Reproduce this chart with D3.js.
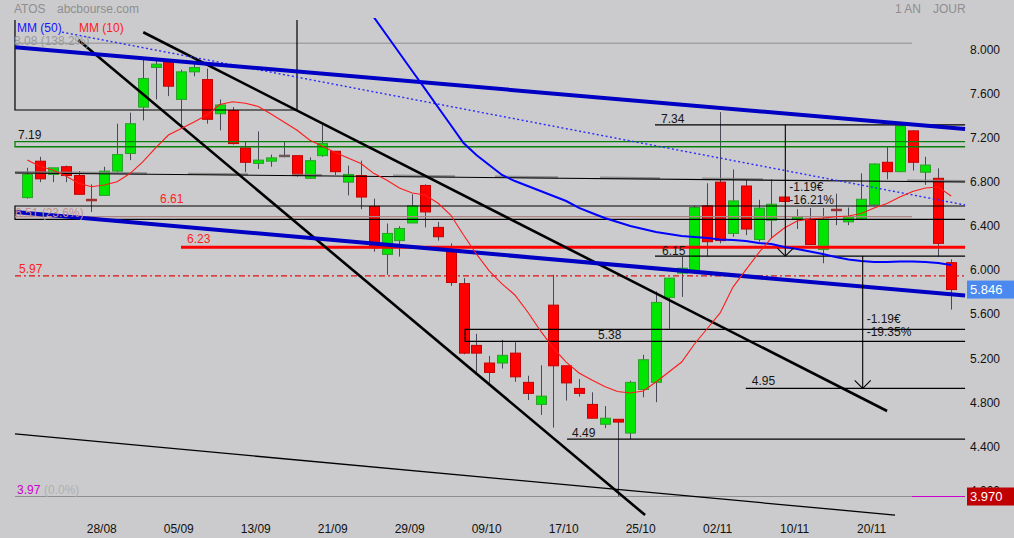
<!DOCTYPE html>
<html><head><meta charset="utf-8">
<script src="https://cdn.jsdelivr.net/npm/d3@7"></script>
<style>
body{margin:0;background:#cbcbcd;}
svg{display:block;font-family:"Liberation Sans",Arial,sans-serif;}
</style>
</head><body>
<svg id="c" width="1014" height="538"></svg>
<script>
// ---------- DATA ----------
const dates = ["18/08","21/08","22/08","23/08","24/08","25/08","28/08","29/08","30/08","31/08",
"01/09","04/09","05/09","06/09","07/09","08/09","11/09","12/09","13/09","14/09","15/09","18/09","19/09","20/09","21/09","22/09","25/09","26/09","27/09","28/09","29/09",
"02/10","03/10","04/10","05/10","06/10","09/10","10/10","11/10","12/10","13/10","16/10","17/10","18/10","19/10","20/10","23/10","24/10","25/10","26/10","27/10","30/10","31/10",
"01/11","02/11","03/11","06/11","07/11","08/11","09/11","10/11","13/11","14/11","15/11","16/11","17/11","20/11","21/11","22/11","23/11","24/11","27/11","28/11"];
const tickDates = ["28/08","05/09","13/09","21/09","29/09","09/10","17/10","25/10","02/11","10/11","20/11"];
const opens  = [6.68,7.01,6.89,6.96,6.88,6.66,6.70,6.92,7.08,7.50,7.86,7.91,7.57,7.82,7.75,7.44,7.47,7.13,6.99,7.01,7.06,7.06,6.855,7.06,7.10,6.82,6.88,6.60,6.165,6.29,6.45,6.79,6.41,6.19,5.90,5.34,5.18,5.18,5.27,5.005,4.805,5.705,5.155,4.95,4.805,4.625,4.67,4.545,4.94,5.005,5.775,5.995,6.015,6.605,6.82,6.355,6.785,6.30,6.475,6.685,6.485,6.485,6.21,6.57,6.46,6.485,6.615,7.00,6.915,7.285,6.91,6.855,6.09];
const highs  = [6.95,7.05,6.95,6.97,6.92,6.80,6.96,7.35,7.45,7.93,7.93,7.93,7.84,7.90,7.85,7.57,7.50,7.19,7.28,7.07,7.19,7.06,7.045,7.34,7.10,6.97,7.015,6.67,6.445,6.42,6.71,6.80,6.46,6.265,5.95,5.445,5.245,5.39,5.37,5.065,5.16,5.98,5.155,5.035,4.915,4.79,4.67,5.02,5.255,5.83,5.95,6.145,6.605,6.81,7.455,6.935,6.84,6.66,6.845,6.685,6.575,6.585,6.585,6.715,6.59,6.90,6.99,7.14,7.335,7.29,7.05,6.945,6.12];
const lows   = [6.67,6.82,6.82,6.82,6.71,6.55,6.70,6.91,7.02,7.38,7.57,7.60,7.32,7.78,7.35,7.29,7.16,6.91,6.94,6.96,7.045,6.87,6.85,7.05,6.885,6.70,6.575,6.19,5.98,6.145,6.45,6.41,6.29,5.88,5.26,5.10,5.00,5.13,5.01,4.845,4.71,4.595,4.84,4.875,4.68,4.59,3.97,4.49,4.87,4.825,5.49,5.78,6.01,6.145,6.265,6.325,6.34,6.28,6.31,6.64,6.395,6.255,6.085,6.43,6.43,6.485,6.61,6.845,6.91,6.925,6.795,6.145,5.665];
const closes = [6.89,6.85,6.95,6.88,6.71,6.655,6.92,7.07,7.35,7.76,7.89,7.69,7.82,7.86,7.39,7.52,7.17,7.00,7.02,7.04,7.06,6.88,7.015,7.17,6.915,6.89,6.685,6.225,6.355,6.40,6.605,6.55,6.325,5.91,5.27,5.27,5.095,5.25,5.055,4.905,4.88,5.155,5.00,4.905,4.68,4.68,4.645,5.005,5.21,5.73,5.95,6.04,6.59,6.28,6.29,6.65,6.395,6.585,6.62,6.645,6.505,6.255,6.485,6.565,6.505,6.665,6.985,6.915,7.33,7.00,6.975,6.265,5.846];
const mm10 = [7.021,6.962,6.930,6.876,6.810,6.779,6.794,6.824,6.898,7.003,7.130,7.247,7.306,7.365,7.429,7.524,7.549,7.535,7.506,7.438,7.365,7.293,7.202,7.145,7.089,7.039,6.989,6.900,6.840,6.767,6.722,6.704,6.631,6.522,6.341,6.169,6.015,5.897,5.797,5.643,5.471,5.316,5.189,5.090,5.026,4.967,4.922,4.908,4.927,5.008,5.099,5.189,5.353,5.493,5.634,5.869,6.024,6.178,6.314,6.404,6.468,6.486,6.495,6.507,6.513,6.536,6.586,6.627,6.685,6.735,6.767,6.776,6.694];
const mm50 = [null,null,null,null,null,null,null,null,null,null,null,null,null,null,null,null,null,null,null,null,null,null,null,null,null,null,null,
8.317,8.154,7.991,7.828,7.665,7.501,7.338,7.175,7.066,6.976,6.885,6.830,6.785,6.740,6.694,6.649,6.586,6.540,6.495,6.459,6.422,6.395,6.368,6.350,6.332,6.323,6.314,6.300,6.296,6.286,6.268,6.259,6.232,6.214,6.191,6.169,6.141,6.119,6.105,6.096,6.096,6.101,6.101,6.096,6.087,6.069];
const priceTicks = [8.0,7.6,7.2,6.8,6.4,6.0,5.6,5.2,4.8,4.4,4.0];
const lastPrice = 5.846, periodLow = 3.97, fibTop = 8.08;
// trendlines: [[index, value],[index, value]]
const blueChannel = [[[-0.96,8.043],[73.09,7.302]], [[-0.96,6.549],[73.09,5.792]]];
const blueDotted  = [[2.70,8.18],[73.09,6.613]];
const blackThick  = [[[3.975,8.109],[48.15,3.802]], [[9.04,8.179],[67.01,4.745]]];
const blackThin   = [[-0.96,4.537],[67.63,3.802]];
const slopeLevel  = [[-0.96,6.903],[73.09,6.821]];
const greySegs    = [[-0.96,9.33],[12.52,17.2],[20.63,22.97],[28.5,33.34],[36.45,41.36],[44.64,49.31],[52.59,57.34],[68.57,73.09]];
const topBox      = [-0.96,21.02,8.29,7.474];
const greenBand   = [7.187,7.141];
const zone651     = [6.604,6.483,6.507];
const zone538     = [34.12,5.486,5.377];
const levels = { l734:[48.92,7.34], l623:[11.98,6.23], l615:[48.92,6.15], l597:[-0.96,5.97], l495:[56.0,4.95], l449:[42.07,4.49] };
const measures = [[59.08,7.34,6.15,"-1.19€","-16.21%"],[65.11,6.15,4.95,"-1.19€","-19.35%"]];
const XL=-0.96, XR=73.09, XG=68.95;

// ---------- DRAW ----------
const W=1014,H=538;
const svg=d3.select("#c");
svg.append("rect").attr("width",W).attr("height",H).attr("fill","#cbcbcd");
const x=d3.scaleLinear().domain([0,72]).range([27.3,951.1]);
const y=d3.scaleLinear().domain([8,4]).range([52,493.2]);

svg.append("defs").append("clipPath").attr("id","plot").append("rect").attr("x",0).attr("y",18).attr("width",W).attr("height",H-18);

const T=(s,xx,yy,col,size)=>svg.append("text").attr("x",xx).attr("y",yy).attr("fill",col).attr("font-size",size||12).text(s);
T("ATOS",14,13,"#8e8e8e"); T("abcbourse.com",57,13,"#8e8e8e");
T("1 AN",895,13,"#8e8e8e"); T("JOUR",933,13,"#8e8e8e");

const seg=(a,b,col,w,dash)=>{const l=svg.append("line").attr("x1",x(a[0])).attr("y1",y(a[1])).attr("x2",x(b[0])).attr("y2",y(b[1])).attr("stroke",col).attr("stroke-width",w);if(dash)l.attr("stroke-dasharray",dash);return l;};
const hline=(x0,x1,v,col,w,dash)=>seg([x0,v],[x1,v],col,w,dash);

// fib grey lines
hline(XL,XG,fibTop,"#8f8f8f",1);
hline(XL,XG,periodLow,"#8f8f8f",1);
hline(XG,XR,periodLow,"#cc00cc",1.2);

// candles
const cg=svg.append("g");
dates.forEach((d,i)=>{
  const o=opens[i],c=closes[i],h=highs[i],l=lows[i];
  const cx=Math.round(x(i))+0.5;
  cg.append("line").attr("x1",cx).attr("x2",cx).attr("y1",y(h)).attr("y2",y(l)).attr("stroke","#484858").attr("stroke-width",1);
  if(Math.abs(o-c)<0.012){
    cg.append("rect").attr("x",cx-5.5).attr("y",y(o)-1).attr("width",11).attr("height",2.5).attr("fill",o>c?"#a03030":"#6a5a5a");
  } else {
    const up=c>o;
    cg.append("rect").attr("x",cx-5).attr("y",y(Math.max(o,c))).attr("width",10)
      .attr("height",Math.max(1.5,y(Math.min(o,c))-y(Math.max(o,c))))
      .attr("fill",up?"#00e600":"#ff0000").attr("stroke",up?"#2e9e2e":"#c40000").attr("stroke-width",1);
  }
});

// top-left box
svg.append("path").attr("d",`M${x(topBox[0])},${y(topBox[2])}V${y(topBox[3])}H${x(topBox[1])}V${y(topBox[2])}`).attr("fill","none").attr("stroke","#000").attr("stroke-width",1.2);

// green band
svg.append("path").attr("d",`M${x(XR)},${y(greenBand[0])}H${x(XL)}V${y(greenBand[1])}H${x(XR)}`).attr("fill","none").attr("stroke","#0a800a").attr("stroke-width",1.3);

// sloped level with grey segments
const lerpV=(t)=>slopeLevel[0][1]+(slopeLevel[1][1]-slopeLevel[0][1])*(t-slopeLevel[0][0])/(slopeLevel[1][0]-slopeLevel[0][0]);
greySegs.forEach(s=>seg([s[0],lerpV(s[0])+0.008],[s[1],lerpV(s[1])+0.008],"#7e7e7e",2.2).attr("opacity",0.8));
seg(slopeLevel[0],slopeLevel[1],"#000",1.1);

// 6.61 / 6.48 zone
svg.append("path").attr("d",`M${x(XR)},${y(zone651[0])}H${x(XL)}V${y(zone651[1])}H${x(XR)}`).attr("fill","none").attr("stroke","#000").attr("stroke-width",1.2);
hline(XL,XG,zone651[2],"#b08282",1.2);

// 5.38 zone
svg.append("path").attr("d",`M${x(XR)},${y(zone538[1])}H${x(zone538[0])}V${y(zone538[2])}H${x(XR)}`).attr("fill","none").attr("stroke","#000").attr("stroke-width",1.2);

// levels
hline(levels.l734[0],XR,levels.l734[1],"#000",1.2);
hline(levels.l615[0],XR,levels.l615[1],"#000",1.2);
hline(levels.l495[0],XR,levels.l495[1],"#000",1.2);
hline(levels.l449[0],XR,levels.l449[1],"#000",1.2);
hline(levels.l597[0],XR,levels.l597[1],"#e01010",1.2,"6,3,2,3");
hline(levels.l623[0],XR,levels.l623[1],"#ff0000",3);

// trendlines
seg(blackThin[0],blackThin[1],"#000",1.3);
blackThick.forEach(t=>seg(t[0],t[1],"#000",2.6));
seg(blueDotted[0],blueDotted[1],"#2a2aff",1.4,"2,2.5");
blueChannel.forEach(t=>seg(t[0],t[1],"#0000c4",4));

// moving averages
const ln=d3.line().defined(d=>d!=null).x((d,i)=>x(i)).y(d=>y(d));
svg.append("path").datum(mm50).attr("d",ln).attr("fill","none").attr("stroke","#0000ff").attr("stroke-width",2).attr("clip-path","url(#plot)");
svg.append("path").datum(mm10).attr("d",ln).attr("fill","none").attr("stroke","#ff1a1a").attr("stroke-width",1.1);

// measurement arrows
measures.forEach(m=>{
  const cx=x(m[0]),y0=y(m[1]),y1=y(m[2]);
  svg.append("line").attr("x1",cx).attr("x2",cx).attr("y1",y0).attr("y2",y1).attr("stroke","#000").attr("stroke-width",1.1);
  svg.append("path").attr("d",`M${cx-8},${y1-8}L${cx},${y1}L${cx+8},${y1-8}`).attr("fill","none").attr("stroke","#000").attr("stroke-width",1.1);
  const mid=(y0+y1)/2;
  T(m[3],cx+4,mid+1,"#151515");
  T(m[4],cx+4,mid+14,"#151515");
});

// level labels
T("7.34",x(levels.l734[0])+6,y(levels.l734[1])-2,"#151515");
T("7.19",18,y(greenBand[0])-2.5,"#151515");
T("6.61",160,y(zone651[0])-3,"#ff2020");
T("6.51 (23.6%)",15,y(zone651[2])+0.5,"#c49090");
T("6.23",x(levels.l623[0])+6,y(levels.l623[1])-4,"#ff2020");
T("6.15",x(levels.l615[0])+7,y(levels.l615[1])-1.5,"#151515");
T("5.97",19,y(levels.l597[1])-3,"#ff2020");
T("5.38",598,y(zone538[2])-2,"#151515");
T("4.95",x(levels.l495[0])+6,y(levels.l495[1])-3.5,"#151515");
T("4.49",x(levels.l449[0])+5,y(levels.l449[1])-2.5,"#151515");
T("3.97",17,y(periodLow)-3,"#cc00cc");
T("(0.0%)",44,y(periodLow)-3,"#b0b0b0");
T("8.08 (138.2%)",14,y(fibTop)+1.5,"#9a9a9a");
T("MM (50)",17,32,"#1414ff");
T("MM (10)",79,32,"#ff2020");

// right axis
const ay=svg.append("g").attr("transform","translate(967,0)")
  .call(d3.axisRight(y).tickValues(priceTicks).tickFormat(d3.format(".3f")).tickSize(0).tickPadding(3));
ay.select(".domain").remove();
ay.selectAll("text").attr("dy","0.1em").attr("font-size",12).attr("fill","#111").attr("font-family","Liberation Sans, Arial, sans-serif");

// bottom axis
const tickIdx=tickDates.map(t=>dates.indexOf(t));
const ax=svg.append("g").attr("transform","translate(-3,524)")
  .call(d3.axisBottom(x).tickValues(tickIdx).tickFormat(i=>dates[i]).tickSize(0).tickPadding(0));
ax.select(".domain").remove();
ax.selectAll("text").attr("font-size",12).attr("fill","#111").attr("font-family","Liberation Sans, Arial, sans-serif");

// price boxes
const box=(v,col)=>{const yy=y(v);
  svg.append("rect").attr("x",967).attr("y",yy-9).attr("width",47).attr("height",18).attr("fill",col);
  T(d3.format(".3f")(v),970,yy+4.5,"#fff",13);
};
box(lastPrice,"#4a8af0");
box(periodLow,"#c00000");
</script>
</body></html>
